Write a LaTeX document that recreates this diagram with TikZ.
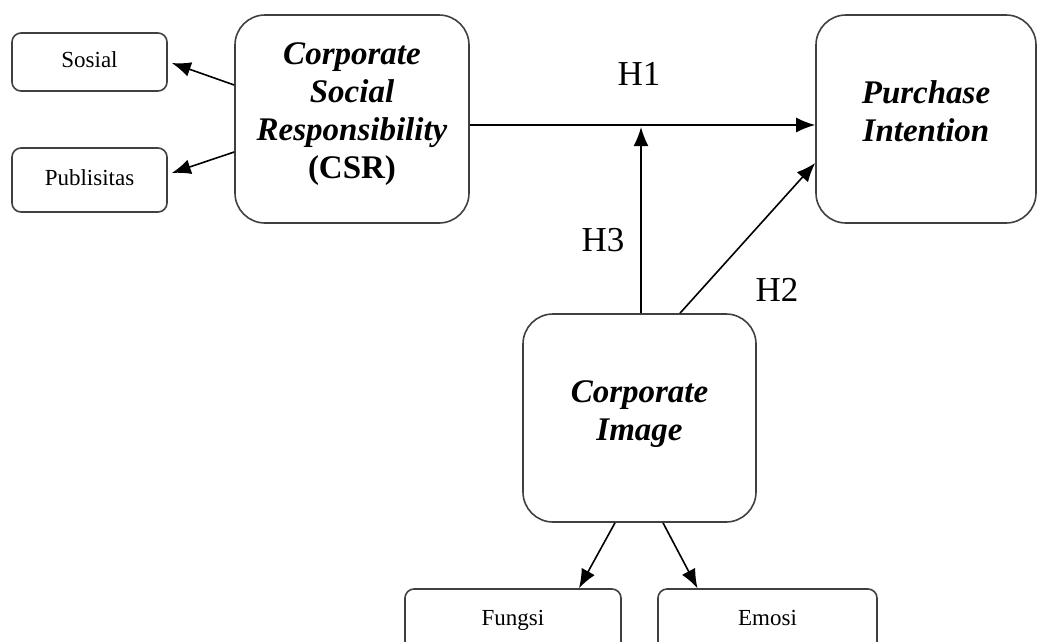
\documentclass[tikz,border=0pt]{standalone}
\usepackage{fontspec}
\setmainfont{Liberation Serif}
\usetikzlibrary{arrows.meta}
\tikzset{
  bigbox/.style={draw=black!75, line width=1.6pt, rounded corners=30pt, minimum width=233pt, minimum height=208pt, inner sep=0pt},
  bigtext/.style={align=center, inner sep=0pt, font=\fontsize{33}{38}\selectfont\bfseries\itshape},
  smallbox/.style={draw=black!75, line width=1.6pt, rounded corners=9pt, inner sep=0pt, text height=16pt, text depth=5pt, font=\fontsize{23}{26}\selectfont},
  arr/.style={line width=1.6pt, -{Latex[length=19pt,width=15pt]}},
  hlabel/.style={font=\fontsize{35}{40}\selectfont, inner sep=0pt}
}
\begin{document}
\begin{tikzpicture}[x=1pt,y=-1pt]
\useasboundingbox (0,0) rectangle (1039,641);
\clip (0,0) rectangle (1039,641);
\node[smallbox, minimum width=155pt, minimum height=58pt] (sosial) at (89.5,62) {Sosial};
\node[smallbox, minimum width=155pt, minimum height=64pt] (publ) at (89.5,180) {Publisitas};
\node[bigbox, minimum width=234pt, label={[bigtext,yshift=5pt]center:{Corporate\\Social\\Responsibility\\\upshape(CSR)}}] (csr) at (352,119) {};
\node[bigbox, minimum width=220pt, label={[bigtext,yshift=8pt]center:{Purchase\\Intention}}] (pi) at (926,119) {};
\node[bigbox, label={[bigtext,yshift=4pt]center:{Corporate\\Image}}] (ci) at (639.5,418) {};
\node[smallbox, minimum width=216pt, minimum height=62pt] (fungsi) at (513,620) {Fungsi};
\node[smallbox, minimum width=219pt, minimum height=62pt] (emosi) at (767.5,620) {Emosi};
\coordinate (j) at (641,127);
\draw[arr] ([yshift=34pt]csr.west) -- ([xshift=4pt,yshift=-1pt]sosial.east);
\draw[arr] ([yshift=-33pt]csr.west) -- ([xshift=4pt,yshift=7pt]publ.east);
\draw[arr] ([yshift=-6pt]csr.east) -- ([yshift=-6pt]pi.west);
\draw[arr] ([xshift=1.5pt]ci.north) -- (j);
\draw[arr] ([xshift=40.5pt]ci.north) -- ([yshift=-44pt]pi.west);
\draw[arr] ([xshift=-24.5pt]ci.south) -- ([xshift=66pt]fungsi.north);
\draw[arr] ([xshift=23.5pt]ci.south) -- ([xshift=-70pt]emosi.north);
\node[hlabel] (h1) at (639,74) {H1};
\node[hlabel] (h3) at (603,240) {H3};
\node[hlabel] (h2) at (777,290) {H2};
\end{tikzpicture}
\end{document}
